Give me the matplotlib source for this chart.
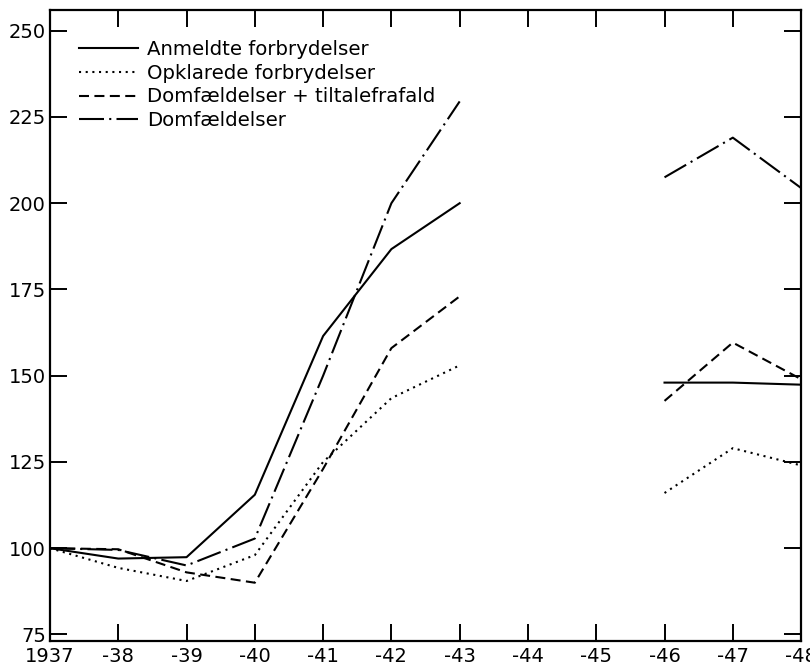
import numpy as np
import matplotlib
matplotlib.use("Agg")
import matplotlib.pyplot as plt

nan = np.nan
years = [1937, 1938, 1939, 1940, 1941, 1942, 1943, 1944, 1945, 1946, 1947, 1948]
xlabels = ["1937", "-38", "-39", "-40", "-41", "-42", "-43", "-44", "-45", "-46", "-47", "-48"]

anmeldte = [100, 97, 97.4, 115.5, 161.5, 186.7, 200, nan, nan, 148, 148, 147.4]
opklarede = [100, 94.3, 90.5, 98, 125, 143.5, 153, nan, nan, 116, 129, 124]
domf_tiltale = [100, 99.7, 93, 90, 123, 158, 173, nan, nan, 142.7, 159.6, 149]
domf = [100, 99.5, 95, 102.8, 150, 200, 229.5, nan, nan, 207.5, 219, 204.4]

names = ["Anmeldte forbrydelser", "Opklarede forbrydelser",
         "Domfældelser + tiltalefrafald", "Domfældelser"]

fig = plt.figure(figsize=(8.1, 6.66), dpi=100)
ax = fig.add_axes([0.0617, 0.0375, 0.9273, 0.9475])

lw = 1.5
ax.plot(years, anmeldte, color="black", lw=lw, linestyle="-", label=names[0])
ax.plot(years, opklarede, color="black", lw=lw, linestyle=(0, (1, 2.2)), label=names[1])
ax.plot(years, domf_tiltale, color="black", lw=lw, linestyle=(0, (4.8, 2.6)), label=names[2])
ax.plot(years, domf, color="black", lw=lw, linestyle=(0, (12, 2.5, 1, 2.5)), label=names[3])

ax.set_xlim(1937, 1948)
ax.set_ylim(73.1, 256)
ax.set_xticks(years)
ax.set_xticklabels(xlabels)
ax.set_yticks([75, 100, 125, 150, 175, 200, 225, 250])

ax.tick_params(axis="both", direction="in", length=12, width=1.4, labelsize=14,
               top=True, right=True, pad=3)
ax.tick_params(axis="x", pad=4)
for s in ax.spines.values():
    s.set_linewidth(1.6)

# legend without frame, top left
ax.legend(loc="upper left", frameon=False, fontsize=14.2, handlelength=3.0,
          handletextpad=0.45, labelspacing=0.25, borderaxespad=0.3,
          bbox_to_anchor=(0.02, 0.975))

fig.savefig("out.png", dpi=100, facecolor="white")
